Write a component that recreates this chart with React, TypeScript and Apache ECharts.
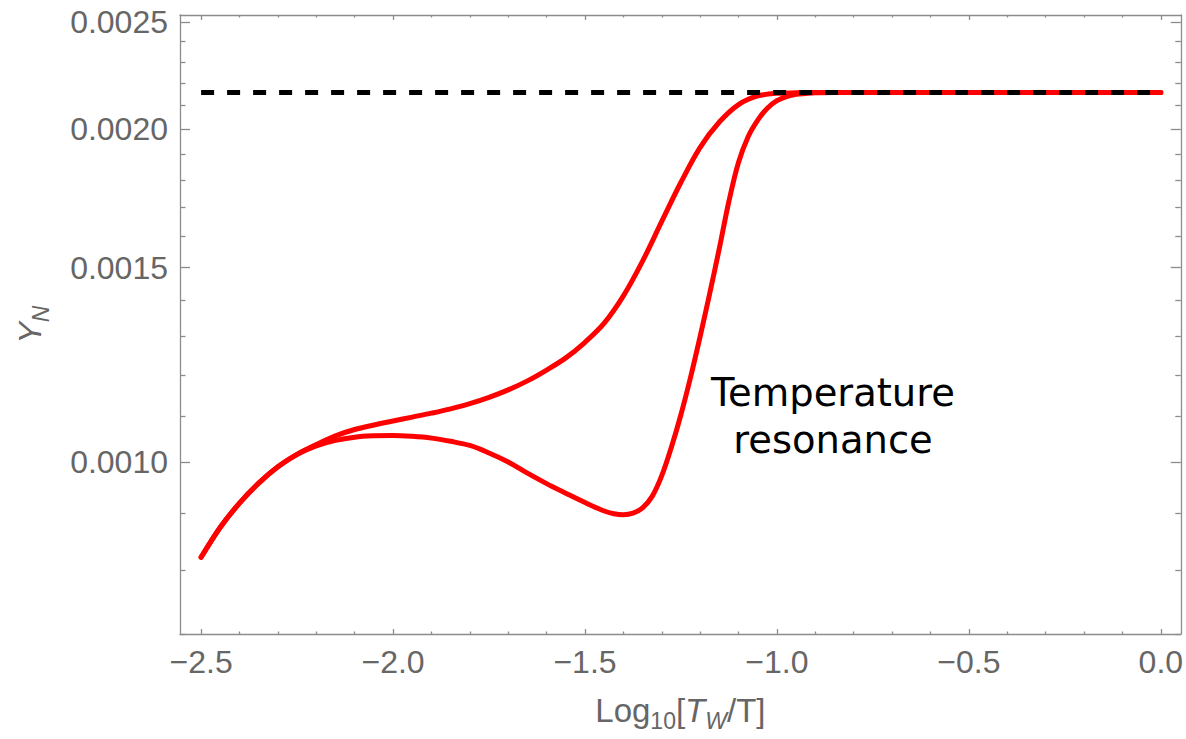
import React, { useEffect, useRef } from 'react';
import * as echarts from 'echarts';

// Axis tick positions (data units)
const xMajorTicks = [-2.5, -2.0, -1.5, -1.0, -0.5, 0.0];
const xMinorTicks = [-2.4, -2.3, -2.2, -2.1, -1.9, -1.8, -1.7, -1.6, -1.4, -1.3, -1.2, -1.1, -0.9, -0.8, -0.7, -0.6, -0.4, -0.3, -0.2, -0.1];
const yMajorTicks = [0.001, 0.0015, 0.002, 0.0025];
const yMinorTicks = [0.0007, 0.0008, 0.0009, 0.0011, 0.0012, 0.0013, 0.0014, 0.0016, 0.0017, 0.0018, 0.0019, 0.0021, 0.0022, 0.0023, 0.0024];

// Upper red curve
const upperX = [-2.5, -2.45, -2.4, -2.35, -2.3, -2.25, -2.2, -2.15, -2.1, -2.05, -2.0, -1.95, -1.9, -1.85, -1.8, -1.75, -1.7, -1.65, -1.6, -1.55, -1.5, -1.45, -1.4, -1.35, -1.3, -1.25, -1.2, -1.15, -1.1, -1.05, -1.0, -0.95, -0.9, 0.0];
const upperY = [0.000821, 0.000874, 0.000919, 0.000958, 0.000991, 0.001017, 0.001038, 0.001057, 0.001071, 0.001081, 0.00109, 0.001099, 0.001108, 0.001118, 0.00113, 0.001145, 0.001163, 0.001185, 0.001212, 0.001243, 0.001284, 0.001336, 0.001414, 0.00152, 0.001651, 0.001791, 0.001926, 0.00203, 0.002105, 0.002143, 0.002155, 0.002157, 0.002158, 0.002158];

// Lower red curve (temperature resonance)
const lowerX = [-2.5, -2.45, -2.4, -2.35, -2.3, -2.25, -2.2, -2.15, -2.1, -2.05, -2.0, -1.95, -1.9, -1.85, -1.8, -1.75, -1.7, -1.65, -1.6, -1.55, -1.5, -1.45, -1.425, -1.4, -1.375, -1.35, -1.325, -1.3, -1.275, -1.25, -1.225, -1.2, -1.175, -1.15, -1.125, -1.1, -1.075, -1.05, -1.025, -1.0, -0.975, -0.95, -0.925, -0.9, -0.85, 0.0];
const lowerY = [0.000821, 0.000874, 0.000919, 0.000958, 0.000991, 0.001017, 0.001035, 0.001047, 0.001054, 0.001057, 0.001058, 0.001056, 0.001052, 0.001045, 0.001036, 0.00102, 0.001001, 0.000978, 0.000957, 0.000938, 0.00092, 0.000904, 0.000899, 0.000897, 0.0009, 0.00091, 0.000932, 0.000973, 0.001032, 0.001105, 0.001194, 0.0013, 0.001422, 0.001561, 0.001722, 0.001867, 0.001969, 0.002038, 0.002089, 0.002122, 0.00214, 0.00215, 0.002154, 0.002157, 0.002158, 0.002158];

// Asymptotic value (black dashed)
const plateauX = [-2.5, 0.0];
const plateauY = [0.002158, 0.002158];

const annotation = 'Temperature\nresonance';

export default function App() {
  const ref = useRef<HTMLDivElement>(null);

  useEffect(() => {
    if (!ref.current) return;
    const chart = echarts.init(ref.current, null, { renderer: 'svg' });
    const frame = '#8c8c8c';
    const labelColor = '#666666';
    const font = 'Liberation Sans, Arial, sans-serif';
    const xMin = -2.555;
    const xMax = 0.052;
    const lg = (v: number) => Math.log10(v);
    const yMin = lg(0.0007);
    const yMax = lg(0.002536);

    const fmtX = (v: number) => (v < -1e-9 ? '\u2212' : '') + Math.abs(v).toFixed(1);
    const fmtY = (v: number) => Math.pow(10, v).toFixed(4);

    const xAxis = (position: string, ticks: number[], len: number, showLine: boolean, labels: boolean, extra: any = {}) => ({
      type: 'value',
      position,
      min: xMin,
      max: xMax,
      axisLine: { show: showLine, onZero: false, lineStyle: { color: frame, width: 1.3 } },
      axisTick: { show: true, inside: true, length: len, customValues: ticks, lineStyle: { color: frame, width: 1.3 } },
      axisLabel: labels
        ? { show: true, customValues: ticks, formatter: fmtX, color: labelColor, fontSize: 32, fontFamily: font, margin: 12 }
        : { show: false },
      splitLine: { show: false },
      ...extra,
    });
    const yAxis = (position: string, ticks: number[], len: number, showLine: boolean, labels: boolean, extra: any = {}) => ({
      type: 'value',
      position,
      min: yMin,
      max: yMax,
      axisLine: { show: showLine, onZero: false, lineStyle: { color: frame, width: 1.3 } },
      axisTick: { show: true, inside: true, length: len, customValues: ticks.map(lg), lineStyle: { color: frame, width: 1.3 } },
      axisLabel: labels
        ? { show: true, customValues: ticks.map(lg), formatter: fmtY, color: labelColor, fontSize: 32, fontFamily: font, margin: 12 }
        : { show: false },
      splitLine: { show: false },
      ...extra,
    });

    const upper = upperX.map((x, i) => [x, lg(upperY[i])]);
    const lower = lowerX.map((x, i) => [x, lg(lowerY[i])]);
    const plateau = plateauX.map((x, i) => [x, lg(plateauY[i])]);

    chart.setOption({
      animation: false,
      backgroundColor: '#ffffff',
      grid: { left: 177, right: 5, top: 15, bottom: 105, containLabel: false },
      xAxis: [
        xAxis('bottom', xMajorTicks, 5, true, true, {
          name: 'Log{sub|10}[{it|T}{subit|W}/T]',
          nameLocation: 'middle',
          nameGap: 54,
          nameTextStyle: {
            color: labelColor,
            fontSize: 33,
            fontFamily: font,
            lineHeight: 36,
            rich: {
              sub: { fontSize: 23, fontFamily: font, color: labelColor, verticalAlign: 'bottom', lineHeight: 44 },
              subit: { fontSize: 23, fontStyle: 'italic', fontFamily: font, color: labelColor, verticalAlign: 'bottom', lineHeight: 44 },
              it: { fontSize: 33, fontStyle: 'italic', fontFamily: font, color: labelColor },
            },
          },
        }),
        xAxis('bottom', xMinorTicks, 2.5, false, false),
        xAxis('top', xMajorTicks, 5, true, false),
        xAxis('top', xMinorTicks, 2.5, false, false),
      ],
      yAxis: [
        yAxis('left', yMajorTicks, 10, true, true, {
          name: '{it|Y}{subit|N}',
          nameLocation: 'middle',
          nameGap: 128,
          nameRotate: 90,
          nameTextStyle: {
            color: labelColor,
            fontSize: 32,
            fontFamily: font,
            lineHeight: 36,
            rich: {
              it: { fontSize: 32, fontStyle: 'italic', fontFamily: font, color: labelColor },
              subit: { fontSize: 23, fontStyle: 'italic', fontFamily: font, color: labelColor, verticalAlign: 'bottom', lineHeight: 44 },
            },
          },
        }),
        yAxis('left', yMinorTicks, 5.5, false, false),
        yAxis('right', yMajorTicks, 10, true, false),
        yAxis('right', yMinorTicks, 5.5, false, false),
      ],
      series: [
        {
          type: 'line',
          name: 'upper',
          data: upper,
          xAxisIndex: 0,
          yAxisIndex: 0,
          showSymbol: false,
          smooth: 0.35,
          lineStyle: { color: '#ff0000', width: 5, cap: 'round', join: 'round' },
          z: 2,
        },
        {
          type: 'line',
          name: 'lower',
          data: lower,
          xAxisIndex: 0,
          yAxisIndex: 0,
          showSymbol: false,
          smooth: 0.35,
          lineStyle: { color: '#ff0000', width: 5, cap: 'round', join: 'round' },
          z: 2,
        },
        {
          type: 'line',
          name: 'plateau',
          data: plateau,
          xAxisIndex: 0,
          yAxisIndex: 0,
          showSymbol: false,
          lineStyle: { color: '#000000', width: 5, type: [13, 13], cap: 'butt' },
          z: 3,
        },
      ],
      graphic: [
        {
          type: 'text',
          x: 833,
          y: 416,
          style: {
            text: annotation,
            fontFamily: 'DejaVu Sans',
            fontSize: 38.5,
            lineHeight: 47,
            fill: '#000000',
            textAlign: 'center',
            textVerticalAlign: 'middle',
          },
          z: 10,
        },
      ],
    });

    return () => chart.dispose();
  }, []);

  return <div ref={ref} style={{ position: 'fixed', left: 0, top: 0, width: 1186, height: 739 }} />;
}
